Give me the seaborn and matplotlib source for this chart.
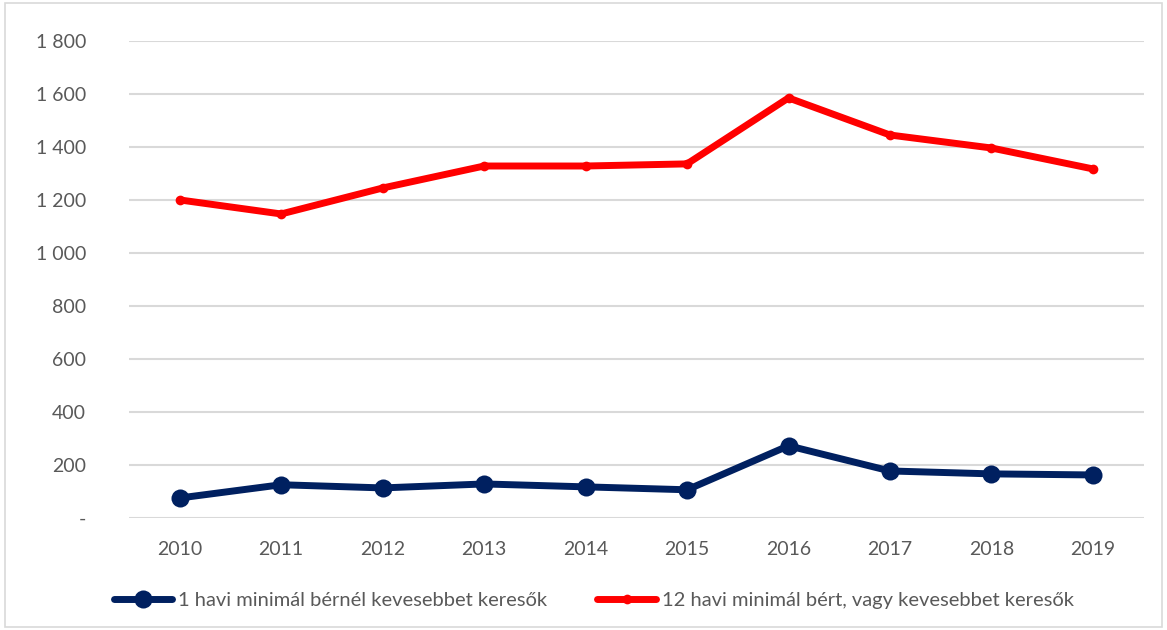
import pandas as pd
import matplotlib
matplotlib.use('Agg')
import matplotlib.pyplot as plt
from matplotlib.ticker import FuncFormatter
from matplotlib.patches import Rectangle
import seaborn as sns

# Data
years = [2010, 2011, 2012, 2013, 2014, 2015, 2016, 2017, 2018, 2019]
one_month = [75, 125, 113, 128, 117, 106, 272, 177, 166, 162]
twelve_month = [1200, 1147, 1245, 1328, 1328, 1336, 1585, 1445, 1396, 1317]
label_one = '1 havi minimál bérnél kevesebbet keresők'
label_twelve = '12 havi minimál bért, vagy kevesebbet keresők'

df = pd.DataFrame({'year': years, 'one': one_month, 'twelve': twelve_month})

sns.set_style('white')
plt.rcParams['font.family'] = ['Lato', 'DejaVu Sans']

fig = plt.figure(figsize=(11.67, 6.3), dpi=100)
ax = fig.add_axes([0.1105, 0.178, 0.8695, 0.757])

sns.lineplot(data=df, x='year', y='one', ax=ax, color='#002060', linewidth=5,
             marker='o', markersize=13, markeredgewidth=0, label=label_one)
sns.lineplot(data=df, x='year', y='twelve', ax=ax, color='#ff0000', linewidth=5,
             marker='o', markersize=7, markeredgewidth=0, label=label_twelve)

ax.set_xlim(years[0] - 0.5, years[-1] + 0.5)
ax.set_ylim(0, 1800)
ax.set_xticks(years)
ax.set_yticks(range(0, 1801, 200))


def fmt(v, pos):
    if v == 0:
        return '-'
    return f'{int(v):,}'.replace(',', ' ')


ax.yaxis.set_major_formatter(FuncFormatter(fmt))
ax.grid(axis='y', color='#d9d9d9', linewidth=1.5)
ax.set_axisbelow(True)
for s in ax.spines.values():
    s.set_visible(False)
ax.tick_params(axis='both', length=0, labelsize=14, labelcolor='#595959')
ax.tick_params(axis='y', pad=31)
ax.tick_params(axis='x', pad=17)
ax.set_xlabel('')
ax.set_ylabel('')

ax.legend(loc='upper center', bbox_to_anchor=(0.458, -0.117), ncol=2, frameon=False,
          fontsize=14.5, handlelength=2.9, handletextpad=0.3, columnspacing=2.5,
          labelcolor='#595959')

fig.patches.append(Rectangle((0.004, 0.005), 0.992, 0.99, transform=fig.transFigure,
                             fill=False, edgecolor='#d9d9d9', linewidth=1.2))

fig.savefig('out.png', dpi=100)
